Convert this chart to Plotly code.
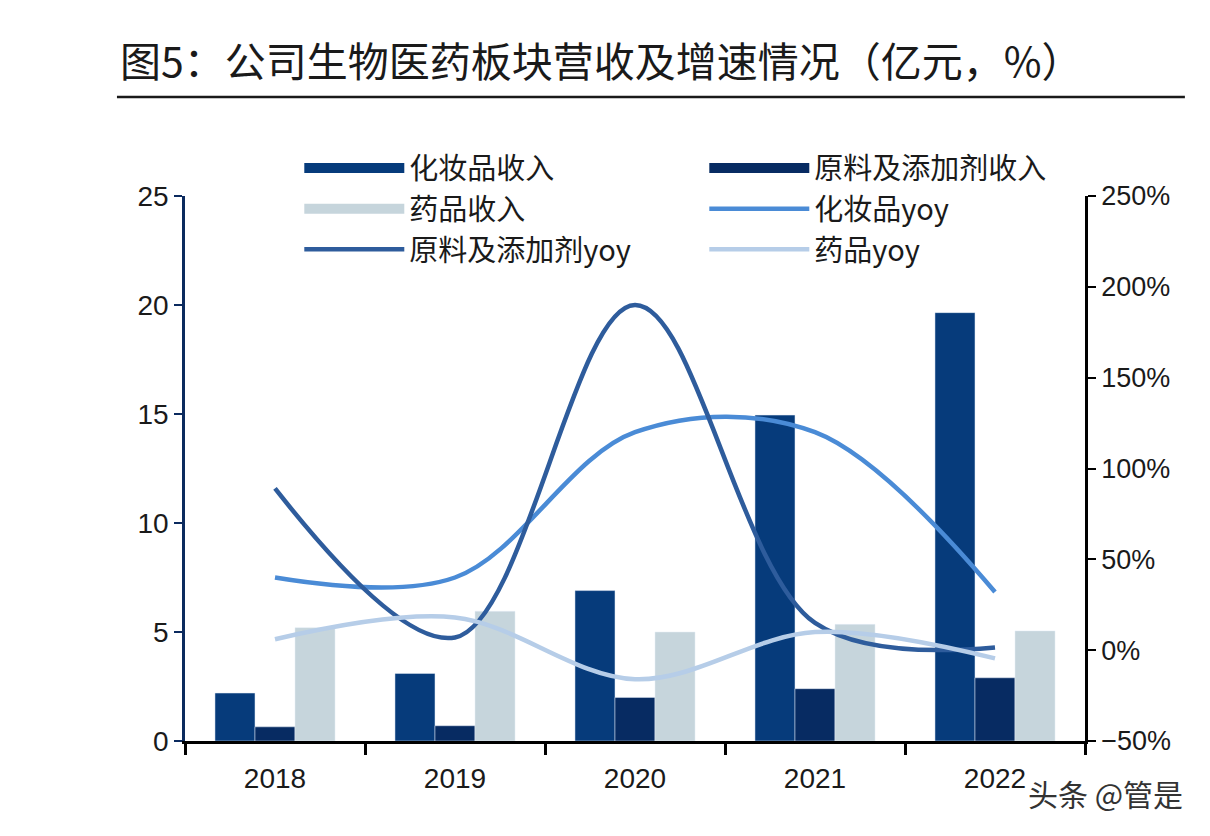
import plotly.graph_objects as go

years = ["2018", "2019", "2020", "2021", "2022"]

# revenue, 亿元 (left axis)
cosmetics_rev = [2.2, 3.1, 6.9, 14.95, 19.65]
material_rev = [0.65, 0.7, 2.0, 2.4, 2.9]
drug_rev = [5.2, 5.95, 5.0, 5.35, 5.05]

# growth, % (right axis)
cosmetics_yoy = [40, 40, 120, 120, 32]
material_yoy = [89, 7, 190, 15, 1.5]
drug_yoy = [6, 18, -16, 10, -4.5]

CJK = "Noto Sans CJK SC"
NUM = "Liberation Sans, Arial, sans-serif"

C_COS, C_MAT, C_DRUG = "#063b7b", "#072b62", "#c6d5dc"
L_COS, L_MAT, L_DRUG = "#4a8bd6", "#2e5c9c", "#b6cde8"

fig = go.Figure()

# bars (legend handled by the wide swatch entries below)
fig.add_trace(go.Bar(x=years, y=cosmetics_rev, name="化妆品收入", marker_color=C_COS, showlegend=False))
fig.add_trace(go.Bar(x=years, y=material_rev, name="原料及添加剂收入", marker_color=C_MAT, showlegend=False))
fig.add_trace(go.Bar(x=years, y=drug_rev, name="药品收入", marker_color=C_DRUG, showlegend=False))

line_style = dict(shape="spline", smoothing=1.0, width=4.5)
fig.add_trace(go.Scatter(x=years, y=cosmetics_yoy, name="化妆品yoy", yaxis="y2", mode="lines",
                         line=dict(color=L_COS, **line_style), showlegend=False))
fig.add_trace(go.Scatter(x=years, y=material_yoy, name="原料及添加剂yoy", yaxis="y2", mode="lines",
                         line=dict(color=L_MAT, **line_style), showlegend=False))
fig.add_trace(go.Scatter(x=years, y=drug_yoy, name="药品yoy", yaxis="y2", mode="lines",
                         line=dict(color=L_DRUG, **line_style), showlegend=False))

# legend entries, row-wise in two columns like the original
legend_items = [
    ("化妆品收入", C_COS, 22),
    ("原料及添加剂收入", C_MAT, 22),
    ("药品收入", C_DRUG, 22),
    ("化妆品yoy", L_COS, 4.5),
    ("原料及添加剂yoy", L_MAT, 4.5),
    ("药品yoy", L_DRUG, 4.5),
]
for name, color, w in legend_items:
    fig.add_trace(go.Scatter(x=[None], y=[None], name=name, mode="lines",
                             line=dict(color=color, width=w), hoverinfo="skip"))

fig.update_layout(
    width=1210,
    height=836,
    margin=dict(l=177, r=133, t=188, b=103),
    paper_bgcolor="white",
    plot_bgcolor="white",
    barmode="group",
    bargap=0.333,
    bargroupgap=0,
    font=dict(family=NUM, size=28, color="#1a1a1a"),
    legend=dict(
        orientation="h",
        x=0.127, xanchor="left",
        y=1.098, yanchor="top",
        entrywidth=290,
        entrywidthmode="pixels",
        itemwidth=100,
        font=dict(family=CJK, size=29, color="#1a1a1a"),
        bgcolor="rgba(0,0,0,0)",
    ),
    xaxis=dict(
        type="category",
        range=[-0.5, 4.5],
        showline=True, linecolor="#000000", linewidth=3,
        ticks="outside", tickson="boundaries", ticklen=11, tickwidth=2.5, tickcolor="#000000",
        ticklabelstandoff=10,
        showgrid=False,
        tickfont=dict(family=NUM, size=28, color="#1a1a1a"),
    ),
    yaxis=dict(
        range=[0, 25], dtick=5,
        showline=True, linecolor="#0b2a5e", linewidth=2.5,
        ticks="outside", ticklen=8, tickwidth=2, tickcolor="#0b2a5e",
        showgrid=False, zeroline=False,
        tickfont=dict(family=NUM, size=28, color="#1a1a1a"),
    ),
    yaxis2=dict(
        overlaying="y", side="right",
        range=[-50, 250], dtick=50, ticksuffix="%",
        showline=True, linecolor="#000000", linewidth=2.5,
        ticks="outside", ticklen=8, tickwidth=2, tickcolor="#000000",
        showgrid=False, zeroline=False,
        tickfont=dict(family=NUM, size=27, color="#1a1a1a"),
    ),
    shapes=[
        dict(type="line", xref="paper", yref="paper", x0=-0.0756, x1=1.111, y0=1.1817, y1=1.1817,
             line=dict(color="#1a1a1a", width=2.5)),
    ],
    annotations=[
        dict(text="图5：公司生物医药板块营收及增速情况（亿元，%）", xref="paper", yref="paper",
             x=-0.0744, y=1.1927, xanchor="left", yanchor="bottom", showarrow=False,
             font=dict(family=CJK, size=41, color="#1a1a1a")),
        dict(text="头条 @管是", xref="paper", yref="paper", x=1.111, y=-0.095,
             xanchor="right", yanchor="middle", showarrow=False,
             font=dict(family=CJK, size=30, color="#333333")),
    ],
)

fig.write_html("out.html")
